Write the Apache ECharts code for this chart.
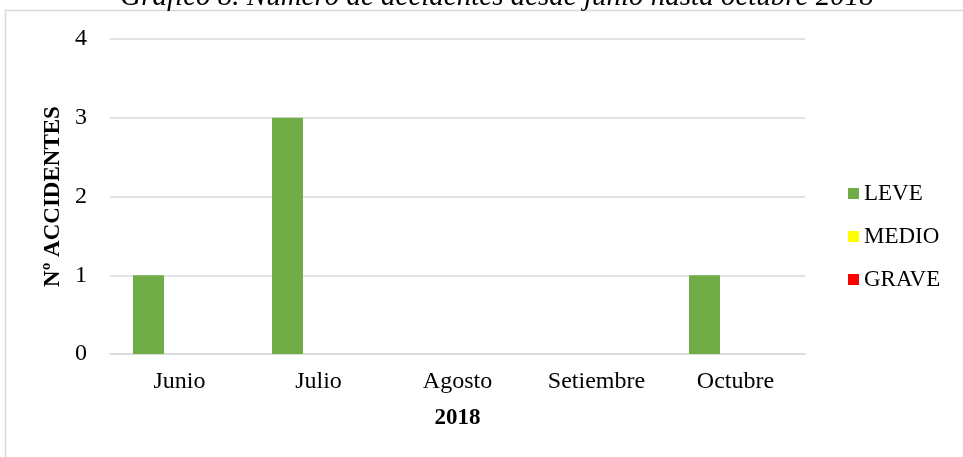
<!DOCTYPE html>
<html>
<head>
<meta charset="utf-8">
<script src="https://cdn.jsdelivr.net/npm/echarts@6/dist/echarts.min.js"></script>
<style>
  html, body { margin: 0; padding: 0; background: #fff; }
  #chart { width: 963px; height: 457px; }
</style>
</head>
<body>
<div id="chart"></div>
<script>
const months = ['Junio', 'Julio', 'Agosto', 'Setiembre', 'Octubre'];
const leve = [1, 3, 0, 0, 1];
const medio = [0, 0, 0, 0, 0];
const grave = [0, 0, 0, 0, 0];
const yTicks = [0, 1, 2, 3, 4];

const serif = '"Liberation Serif", "DejaVu Serif", serif';

const chart = echarts.init(document.getElementById('chart'));

chart.setOption({
    animation: false,
    title: {
        text: 'Gráfico 8. Número de accidentes desde junio hasta octubre 2018',
        left: 492,
        textAlign: 'center',
        top: -22,
        textStyle: { fontFamily: serif, fontStyle: 'italic', fontWeight: 'normal', fontSize: 29, color: '#000' }
    },
    graphic: [{
        type: 'rect',
        shape: { x: 5.5, y: 10.5, width: 1000, height: 500 },
        style: { fill: 'none', stroke: '#d9d9d9', lineWidth: 1.5 },
        silent: true
    }],
    legend: {
        orient: 'vertical',
        left: 843,
        top: 177,
        itemWidth: 11,
        itemHeight: 11,
        itemGap: 20,
        icon: 'rect',
        textStyle: { fontFamily: serif, fontSize: 23, color: '#000' },
        data: ['LEVE', 'MEDIO', 'GRAVE']
    },
    grid: { left: 110, right: 158, top: 39, bottom: 103 },
    xAxis: {
        type: 'category',
        data: months,
        name: '2018',
        nameLocation: 'middle',
        nameGap: 53,
        nameTextStyle: { fontFamily: serif, fontWeight: 'bold', fontSize: 23, color: '#000' },
        axisLine: { lineStyle: { color: '#d9d9d9', width: 1.5 } },
        axisTick: { show: false },
        axisLabel: { fontFamily: serif, fontSize: 24, color: '#000', margin: 16 }
    },
    yAxis: {
        type: 'value',
        min: yTicks[0],
        max: yTicks[yTicks.length - 1],
        interval: 1,
        name: 'Nº ACCIDENTES',
        nameLocation: 'middle',
        nameGap: 42,
        nameTextStyle: { fontFamily: serif, fontWeight: 'bold', fontSize: 23, color: '#000' },
        axisLine: { show: false },
        axisTick: { show: false },
        axisLabel: { fontFamily: serif, fontSize: 24, color: '#000', margin: 23 },
        splitLine: { lineStyle: { color: '#d9d9d9', width: 1.5 } }
    },
    series: [
        { name: 'LEVE', type: 'bar', data: leve, barWidth: 31, barGap: '0%', itemStyle: { color: '#70ad47' } },
        { name: 'MEDIO', type: 'bar', data: medio, barWidth: 31, itemStyle: { color: '#ffff00' } },
        { name: 'GRAVE', type: 'bar', data: grave, barWidth: 31, itemStyle: { color: '#ff0000' } }
    ]
});
</script>
</body>
</html>
